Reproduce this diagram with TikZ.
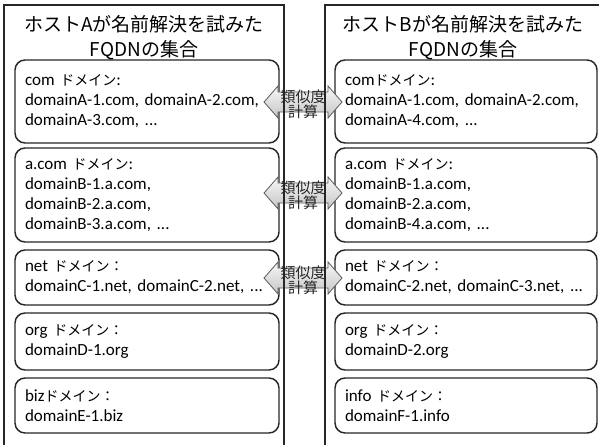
\documentclass[tikz,border=0pt]{standalone}
\usepackage{fontspec}
\setmainfont{Carlito}
\newfontfamily\cjk{Noto Sans CJK JP}
\newcommand{\jp}[1]{{\cjk\fontsize{10.5pt}{15pt}\selectfont #1}}
\begin{document}
\begin{tikzpicture}[x=0.75pt,y=-0.75pt,
  dbox/.style={draw=black!85, line width=1.1pt, rounded corners=7.5pt, align=left,
    inner xsep=7.5pt, inner ysep=0pt, text=black,
    font=\fontsize{12.75pt}{15pt}\selectfont},
  outer/.style={draw=black!85, line width=1.1pt},
  simarrow/.style={draw=black!65, line width=0.6pt, top color=gray!6, bottom color=gray!45},
  simlabel/.style={align=center, inner sep=0pt, text=black!85,
    font=\cjk\fontsize{11.25pt}{11pt}\selectfont},
  ttl/.style={align=center, inner sep=0pt, text=black,
    font=\cjk\fontsize{14.25pt}{18.75pt}\selectfont}
]
\useasboundingbox (0,0) rectangle (599,445);
\clip (0,0) rectangle (599,445);

% titles
\node[ttl] (tA) at (144,37.5) {ホストAが名前解決を試みた\\FQDNの集合};
\node[ttl] (tB) at (463,37.5) {ホストBが名前解決を試みた\\FQDNの集合};

% left boxes
\node[dbox, text width=183pt, minimum height=62.25pt] (l1) at (147,101.5)
  {com \jp{ドメイン}:\\domainA-1.com, domainA-2.com,\\domainA-3.com, ...};
\node[dbox, text width=183pt, minimum height=70.5pt] (l2) at (147,195)
  {a.com \jp{ドメイン}:\\domainB-1.a.com,\\domainB-2.a.com,\\domainB-3.a.com, ...};
\node[dbox, text width=183pt, minimum height=41.25pt] (l3) at (147,277.5)
  {net \jp{ドメイン：}\\domainC-1.net, domainC-2.net, ...};
\node[dbox, text width=183pt, minimum height=42.75pt] (l4) at (147,341.5)
  {org \jp{ドメイン：}\\domainD-1.org};
\node[dbox, text width=183pt, minimum height=41.25pt] (l5) at (147,405.5)
  {biz\jp{ドメイン：}\\domainE-1.biz};

% right boxes
\node[dbox, text width=181.5pt, minimum height=62.25pt] (r1) at (466,101.5)
  {com\jp{ドメイン}:\\domainA-1.com, domainA-2.com,\\domainA-4.com, ...};
\node[dbox, text width=181.5pt, minimum height=70.5pt] (r2) at (466,195)
  {a.com \jp{ドメイン}:\\domainB-1.a.com,\\domainB-2.a.com,\\domainB-4.a.com, ...};
\node[dbox, text width=181.5pt, minimum height=41.25pt] (r3) at (466,277.5)
  {net \jp{ドメイン：}\\domainC-2.net, domainC-3.net, ...};
\node[dbox, text width=181.5pt, minimum height=42.75pt] (r4) at (466,341.5)
  {org \jp{ドメイン：}\\domainD-2.org};
\node[dbox, text width=181.5pt, minimum height=41.25pt] (r5) at (466,405.5)
  {info \jp{ドメイン：}\\domainF-1.info};

% similarity arrows
\foreach \cy in {102,193,278}{
  \path[simarrow, shift={(303,\cy)}]
    (-39,0) -- (-25,-16) -- (-25,-10) -- (25,-10) -- (25,-16) -- (39,0)
    -- (25,16) -- (25,10) -- (-25,10) -- (-25,16) -- cycle;
}

% outer frames
\draw[outer] (4,460) -- (4,5) -- (284,5) -- (284,460);
\draw[outer] (325,460) -- (325,5) -- (610,5);

% arrow labels
\node[simlabel] (s1) at (303,104) {類似度\\計算};
\node[simlabel] (s2) at (303,195) {類似度\\計算};
\node[simlabel] (s3) at (303,280) {類似度\\計算};
\end{tikzpicture}
\end{document}
